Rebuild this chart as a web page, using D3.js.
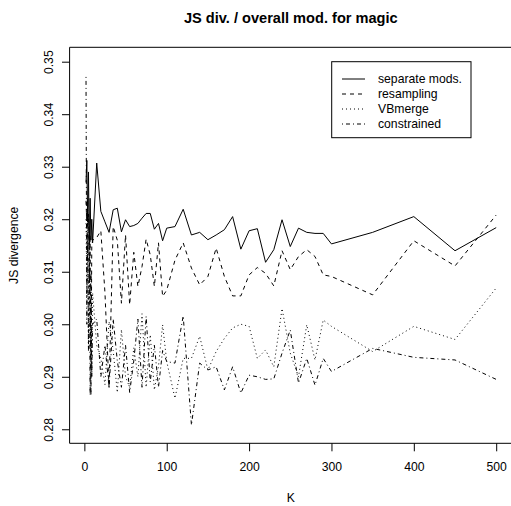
<!DOCTYPE html>
<html>
<head>
<meta charset="utf-8">
<script src="https://cdn.jsdelivr.net/npm/d3@7"></script>
<style>
  body { margin: 0; background: #fff; overflow: hidden; }
  svg { display: block; }
  text { font-family: "Liberation Sans", Arial, sans-serif; }
</style>
</head>
<body>
<div id="graph"></div>
<script>
var width = 511;
var height = 506;

// K values
var kvals = [2, 3, 4, 5, 6, 7, 8, 9, 10,
  15, 20, 25, 30, 35, 40, 45, 50, 55, 60, 65, 70, 75, 80, 85, 90, 95, 100,
  110, 120, 130, 140, 150, 160, 170, 180, 190, 200,
  210, 220, 230, 240, 250, 260, 270, 280, 290, 300,
  350, 400, 450, 500];

var separateMods = [0.3270, 0.3312, 0.3195, 0.3290, 0.3150, 0.3240, 0.3160, 0.3200, 0.3155,
  0.3307, 0.3215, 0.3195, 0.3175, 0.3218, 0.3221, 0.3176, 0.3199, 0.3186, 0.3188, 0.3192, 0.3202, 0.3211, 0.3211, 0.3181, 0.3192, 0.3159, 0.3183,
  0.3186, 0.3219, 0.3170, 0.3175, 0.3161, 0.3170, 0.3180, 0.3205, 0.3143, 0.3178,
  0.3182, 0.3118, 0.3142, 0.3199, 0.3148, 0.3183, 0.3175, 0.3173, 0.3173, 0.3153,
  0.3175, 0.3205, 0.3140, 0.3184];

var resampling = [0.3235, 0.3190, 0.3120, 0.3210, 0.3080, 0.3170, 0.2865, 0.3150, 0.3160,
  0.3165, 0.3178, 0.3060, 0.2879, 0.3186, 0.3160, 0.3040, 0.3170, 0.3037, 0.3137, 0.3072, 0.3110, 0.3162, 0.3132, 0.3072, 0.3155, 0.3053, 0.3065,
  0.3122, 0.3155, 0.3107, 0.3075, 0.3091, 0.3145, 0.3091, 0.3054, 0.3054, 0.3094,
  0.3108, 0.3097, 0.3073, 0.3140, 0.3104, 0.3129, 0.3142, 0.3129, 0.3094, 0.3091,
  0.3056, 0.3159, 0.3111, 0.3208];

var vbMerge = [0.3200, 0.3050, 0.3150, 0.2950, 0.3100, 0.2960, 0.3020, 0.2900, 0.3060,
  0.2960, 0.2935, 0.2885, 0.3005, 0.2950, 0.2870, 0.2990, 0.2900, 0.2880, 0.2955, 0.2900, 0.3020, 0.2880, 0.2980, 0.2875, 0.2920, 0.2999, 0.2929,
  0.2859, 0.2935, 0.2935, 0.2977, 0.2913, 0.2948, 0.2973, 0.2993, 0.3000, 0.2996,
  0.2935, 0.2951, 0.2919, 0.3030, 0.2945, 0.2900, 0.2999, 0.2932, 0.3008, 0.2996,
  0.2948, 0.2996, 0.2971, 0.3069];

var constrained = [0.3471, 0.3000, 0.3240, 0.2950, 0.3150, 0.2865, 0.3100, 0.2900, 0.3000,
  0.3010, 0.2900, 0.2960, 0.2880, 0.3010, 0.2930, 0.2880, 0.2960, 0.2870, 0.2930, 0.3010, 0.2880, 0.3015, 0.2890, 0.2960, 0.2880, 0.2950, 0.2929,
  0.2926, 0.3016, 0.2808, 0.2926, 0.2913, 0.2919, 0.2875, 0.2919, 0.2869, 0.2903,
  0.2900, 0.2895, 0.2896, 0.2945, 0.2989, 0.2888, 0.2935, 0.2884, 0.2935, 0.2910,
  0.2954, 0.2937, 0.2932, 0.2895];

var seriesNames = ["separate mods.", "resampling", "VBmerge", "constrained"];
var seriesDash = [null, "4,4", "1,3", "1,3,4,3"];
var xTicks = [0, 100, 200, 300, 400, 500];
var yTicks = [0.28, 0.29, 0.30, 0.31, 0.32, 0.33, 0.34, 0.35];

var svg = d3.select("#graph")
    .append("svg")
    .attr("width", width)
    .attr("height", height);

var x = d3.scaleLinear().domain([-17.92, 519.92]).range([69.6, 512.6]);
var y = d3.scaleLinear().domain([0.27733, 0.35274]).range([443.3, 47.3]);

// box (right side falls off the picture)
var x0 = x.range()[0], x1 = width + 2, yb = y.range()[0], yt = y.range()[1];
svg.append("path")
    .attr("d", "M" + x1 + "," + yt + "H" + x0 + "V" + yb + "H" + x1)
    .attr("fill", "none")
    .attr("stroke", "#000")
    .attr("stroke-width", 1);

// x axis
var xAxis = svg.append("g")
    .attr("transform", "translate(0," + y.range()[0] + ")")
    .call(d3.axisBottom(x).tickValues(xTicks).tickSize(8).tickPadding(11).tickFormat(d3.format("d")));
xAxis.select(".domain").remove();
xAxis.selectAll("text").attr("font-size", 12.2).attr("fill", "#000")
    .style("font-family", "'Liberation Sans', Arial, sans-serif");

// y axis
var yAxis = svg.append("g")
    .attr("transform", "translate(" + x.range()[0] + ",0)")
    .call(d3.axisLeft(y).tickValues(yTicks).tickSize(7.6).tickFormat(d3.format(".2f")));
yAxis.select(".domain").remove();
yAxis.selectAll("text")
    .attr("font-size", 12.2)
    .attr("fill", "#000")
    .attr("transform", "rotate(-90)")
    .attr("x", 0)
    .attr("y", -17.1)
    .attr("dy", 0)
    .attr("text-anchor", "middle")
    .style("font-family", "'Liberation Sans', Arial, sans-serif");

// title and labels
svg.append("text")
    .attr("x", 290.8)
    .attr("y", 22.5)
    .attr("text-anchor", "middle")
    .attr("font-size", 14.6)
    .attr("font-weight", "bold")
    .text("JS div. / overall mod. for magic");

svg.append("text")
    .attr("x", 290.8)
    .attr("y", 502)
    .attr("text-anchor", "middle")
    .attr("font-size", 12.2)
    .text("K");

svg.append("text")
    .attr("transform", "translate(17.5," + 245.3 + ") rotate(-90)")
    .attr("text-anchor", "middle")
    .attr("font-size", 12.2)
    .text("JS divergence");

// lines
var allSeries = [separateMods, resampling, vbMerge, constrained];
var line = d3.line()
    .x(function(d) { return x(d[0]); })
    .y(function(d) { return y(d[1]); });

allSeries.forEach(function(vals, i) {
  svg.append("path")
      .datum(kvals.map(function(k, j) { return [k, vals[j]]; }))
      .attr("d", line)
      .attr("fill", "none")
      .attr("stroke", "#000")
      .attr("stroke-width", 1)
      .attr("stroke-dasharray", seriesDash[i]);
});

// legend
var legend = svg.append("g");
legend.append("rect")
    .attr("x", 331.7)
    .attr("y", 61.7)
    .attr("width", 139.3)
    .attr("height", 76)
    .attr("fill", "#fff")
    .attr("stroke", "#000");

var rows = legend.selectAll("g.row")
    .data(seriesNames)
    .enter().append("g")
    .attr("class", "row")
    .attr("transform", function(d, i) { return "translate(0," + (79 + i * 15) + ")"; });

rows.append("line")
    .attr("x1", 342).attr("x2", 365)
    .attr("y1", 0).attr("y2", 0)
    .attr("stroke", "#000")
    .attr("stroke-dasharray", function(d, i) { return seriesDash[i]; });

rows.append("text")
    .attr("x", 378)
    .attr("y", 4.3)
    .attr("font-size", 12.2)
    .text(function(d) { return d; });
</script>
</body>
</html>
